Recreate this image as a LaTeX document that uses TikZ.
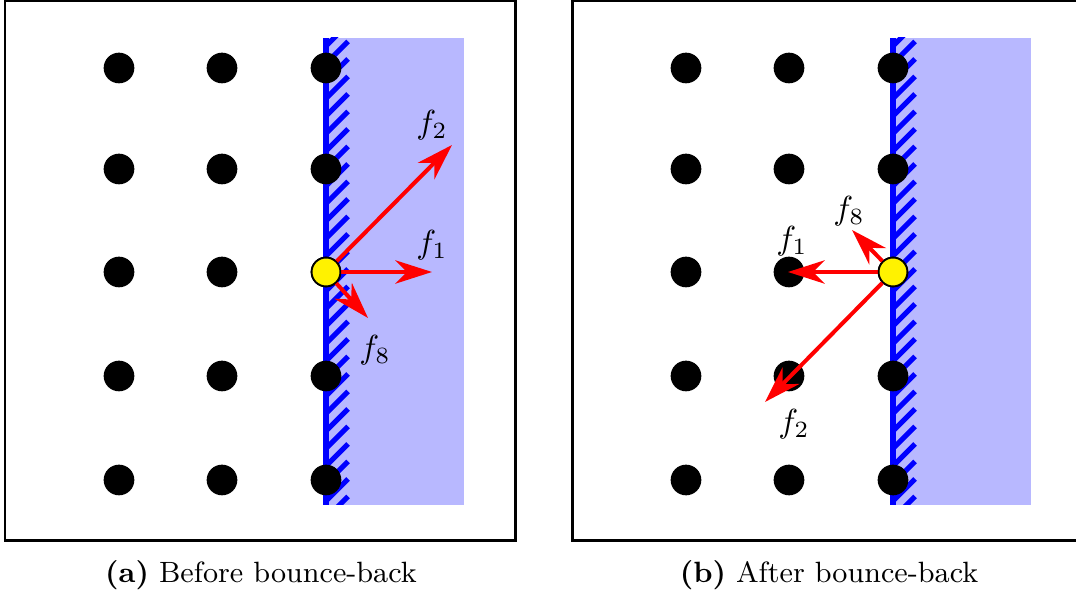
\documentclass[tikz,border=0pt]{standalone}
\usetikzlibrary{arrows.meta}
\begin{document}
\begin{tikzpicture}[x=0.3pt,y=-0.3pt,
  dot/.style={circle,fill=black,inner sep=0pt,minimum size=9.2pt},
  fluid/.style={circle,fill=yellow,draw=black,line width=0.5pt,inner sep=0pt,minimum size=8.6pt},
  frame/.style={draw=black,line width=0.9pt},
  solid region/.style={fill=blue!28},
  wall/.style={draw=blue,line width=1.8pt},
  hatch/.style={draw=blue,line width=1.5pt},
  vec/.style={draw=red,line width=1.2pt,-{Stealth[length=11pt,width=7pt,inset=3.5pt]}},
  lbl/.style={inner sep=0pt,font=\normalsize},
  captext/.style={inner sep=0pt,font=\fontsize{8.8}{10.5}\selectfont}]
\useasboundingbox (0,0) rectangle (1076,597);
\foreach \ox/\p in {0/a,567/b}{
  \begin{scope}[xshift=\ox*0.3pt]
    \draw[frame] (5,0.8) rectangle (515,541);
    \fill[solid region] (326,38) rectangle (464,505);
    \begin{scope}
      \clip (326,38) rectangle (360,505);
      \foreach \yy in {46,63.5,...,530}{
        \draw[hatch] (326,\yy) -- ++(22,-22);
      }
    \end{scope}
    \draw[wall] (326,38) -- (326,505);
    \foreach \cx/\c in {119/1,222/2,326/3}{
      \foreach \cy/\r in {68/1,169/2,272/3,376/4,480/5}{
        \node[dot] (\p-d\c\r) at (\cx,\cy) {};
      }
    }
  \end{scope}
}
% panel (a)
\node[fluid] (ya) at (326,272) {};
\coordinate (a1) at (432,272);
\coordinate (a2) at (452,145);
\coordinate (a8) at (368,318);
\draw[vec] (ya.center) -- (a1);
\draw[vec] (ya.center) -- (a2);
\draw[vec] (ya.center) -- (a8);
\node[fluid] (ya2) at (326,272) {};
\node[lbl] (la2) at (432,125) {$f_2$};
\node[lbl] (la1) at (432,245) {$f_1$};
\node[lbl] (la8) at (375,350) {$f_8$};
% panel (b)
\coordinate (b1) at (788,272);
\coordinate (b2) at (765,402);
\coordinate (b8) at (852,230);
\node[fluid] (yb) at (893,272) {};
\draw[vec] (yb.center) -- (b1);
\draw[vec] (yb.center) -- (b2);
\draw[vec] (yb.center) -- (b8);
\node[fluid] (yb2) at (893,272) {};
\node[lbl] (lb1) at (792,241) {$f_1$};
\node[lbl] (lb8) at (849,211) {$f_8$};
\node[lbl] (lb2) at (794,424) {$f_2$};
% captions
\node[captext] (capa) at (261,575) {\textbf{(a)} Before bounce-back};
\node[captext] (capb) at (829,575) {\textbf{(b)} After bounce-back};
\end{tikzpicture}
\end{document}
